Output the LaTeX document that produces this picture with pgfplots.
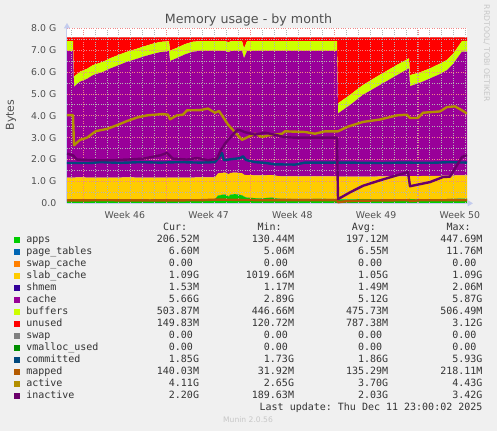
\documentclass[border=0pt]{standalone}
\usepackage{fontspec}
\setmainfont{DejaVu Sans}
\setmonofont{DejaVu Sans Mono}
\usepackage{pgfplots}
\pgfplotsset{compat=1.18}
\usepackage{pgfplotstable}
\usetikzlibrary{arrows.meta}

\definecolor{bgc}{HTML}{F0F0F0}
\definecolor{appsc}{HTML}{00CC00}
\definecolor{ptc}{HTML}{0066B3}
\definecolor{scc}{HTML}{FF8000}
\definecolor{slabc}{HTML}{FFCC00}
\definecolor{shc}{HTML}{330099}
\definecolor{cachec}{HTML}{990099}
\definecolor{bufc}{HTML}{CCFF00}
\definecolor{unc}{HTML}{FF0000}
\definecolor{swc}{HTML}{808080}
\definecolor{vmc}{HTML}{008F00}
\definecolor{comc}{HTML}{00487D}
\definecolor{mapc}{HTML}{B35A00}
\definecolor{actc}{HTML}{B38F00}
\definecolor{inac}{HTML}{6B006B}
\definecolor{gridred}{HTML}{F08888}
\definecolor{gridgray}{HTML}{B4B4B4}
\definecolor{axisc}{HTML}{C4CCEE}
\definecolor{txtc}{HTML}{505050}

% px = horizontal position (time), values in GiB
\pgfplotstableread{
px  apps pt     sc slab cache sh     buf  unused sw vm
67  0.16 0.0065 0  1.01 5.78  0.0015 0.45 0.18   0  0
73  0.16 0.0065 0  1.01 5.78  0.0015 0.45 0.18   0  0
74  0.16 0.0065 0  1.01 4.15  0.0015 0.46 1.80   0  0
80  0.17 0.0065 0  1.01 4.37  0.0015 0.46 1.57   0  0
87  0.16 0.0065 0  1.01 4.51  0.0015 0.46 1.44   0  0
93  0.16 0.0065 0  1.01 4.68  0.0015 0.46 1.27   0  0
103 0.17 0.0065 0  1.00 4.83  0.0015 0.46 1.12   0  0
110 0.16 0.0065 0  1.01 4.98  0.0015 0.47 0.96   0  0
120 0.16 0.0065 0  1.01 5.16  0.0015 0.47 0.78   0  0
127 0.17 0.0065 0  1.01 5.28  0.0015 0.46 0.66   0  0
137 0.16 0.0065 0  1.01 5.43  0.0015 0.46 0.52   0  0
145 0.16 0.0065 0  1.01 5.55  0.0015 0.46 0.40   0  0
153 0.17 0.0065 0  1.00 5.65  0.0015 0.47 0.29   0  0
160 0.16 0.0065 0  1.01 5.73  0.0015 0.47 0.21   0  0
169 0.16 0.0065 0  1.01 5.78  0.0015 0.45 0.18   0  0
170 0.16 0.0065 0  1.01 5.33  0.0015 0.47 0.61   0  0
177 0.17 0.0065 0  1.00 5.46  0.0015 0.47 0.48   0  0
185 0.16 0.0065 0  1.01 5.63  0.0015 0.47 0.31   0  0
193 0.16 0.0065 0  1.01 5.75  0.0015 0.46 0.20   0  0
200 0.17 0.0065 0  1.01 5.78  0.0015 0.44 0.18   0  0
215 0.17 0.0065 0  1.01 5.78  0.0015 0.45 0.17   0  0
218 0.35 0.0065 0  1.01 5.60  0.0015 0.45 0.17   0  0
225 0.40 0.0065 0  1.00 5.55  0.0015 0.45 0.18   0  0
229 0.30 0.0065 0  1.02 5.58  0.0015 0.46 0.22   0  0
230 0.38 0.0065 0  1.00 5.56  0.0015 0.45 0.19   0  0
235 0.42 0.0065 0  0.98 5.56  0.0015 0.45 0.17   0  0
242 0.36 0.0065 0  1.01 5.59  0.0015 0.45 0.17   0  0
244 0.30 0.0065 0  1.00 5.32  0.0015 0.45 0.51   0  0
247 0.25 0.0065 0  1.03 5.67  0.0015 0.45 0.18   0  0
260 0.22 0.0065 0  1.05 5.69  0.0015 0.45 0.17   0  0
272 0.25 0.0065 0  1.03 5.68  0.0015 0.44 0.18   0  0
280 0.20 0.0065 0  1.03 5.73  0.0015 0.44 0.18   0  0
300 0.19 0.0065 0  1.03 5.74  0.0015 0.45 0.17   0  0
320 0.20 0.0065 0  1.03 5.73  0.0015 0.44 0.18   0  0
337 0.19 0.0065 0  1.03 5.73  0.0015 0.45 0.18   0  0
338 0.18 0.0065 0  1.03 2.89  0.0015 0.46 3.02   0  0
350 0.18 0.0065 0  1.03 3.27  0.0015 0.47 2.63   0  0
363 0.19 0.0065 0  1.02 3.74  0.0015 0.45 2.18   0  0
380 0.18 0.0065 0  1.04 4.18  0.0015 0.47 1.71   0  0
397 0.18 0.0065 0  1.04 4.63  0.0015 0.47 1.26   0  0
409 0.19 0.0065 0  1.04 4.93  0.0015 0.46 0.96   0  0
410 0.19 0.0065 0  1.04 4.12  0.0015 0.50 1.73   0  0
420 0.18 0.0065 0  1.06 4.26  0.0015 0.48 1.60   0  0
430 0.19 0.0065 0  1.06 4.45  0.0015 0.46 1.42   0  0
440 0.18 0.0065 0  1.07 4.65  0.0015 0.48 1.20   0  0
447 0.19 0.0065 0  1.07 4.82  0.0015 0.47 1.03   0  0
453 0.20 0.0065 0  1.06 5.09  0.0015 0.47 0.76   0  0
457 0.20 0.0065 0  1.07 5.34  0.0015 0.47 0.50   0  0
462 0.21 0.0065 0  1.06 5.66  0.0015 0.48 0.17   0  0
467 0.21 0.0065 0  1.06 5.66  0.0015 0.49 0.16   0  0
}\memtable

\newcommand{\legfont}{\fontsize{7.5}{9}\selectfont\ttfamily}
\newcommand{\legrow}[7]{%
  \pgfmathsetmacro{\yb}{242.7+12*#1}%
  \node[fill=#2, inner sep=0pt, minimum size=4.4pt] at (17,\yb-2.7) {};
  \node[anchor=base west, inner sep=0pt, font=\legfont, text=black!80] at (26,\yb) {#3};
  \node[anchor=base east, inner sep=0pt, font=\legfont, text=black!80] at (199.3,\yb) {#4};
  \node[anchor=base east, inner sep=0pt, font=\legfont, text=black!80] at (294.3,\yb) {#5};
  \node[anchor=base east, inner sep=0pt, font=\legfont, text=black!80] at (388.5,\yb) {#6};
  \node[anchor=base east, inner sep=0pt, font=\legfont, text=black!80] at (482.7,\yb) {#7};
}
\newcommand{\zz}{0.00\phantom{M}}

\pgfplotsset{
  memframe/.style={
    at={(50.25pt,-152.475pt)}, anchor=south west,
    scale only axis, width=300pt, height=131.25pt,
    xmin=67, xmax=467, ymin=0, ymax=8,
  },
  dotgrid/.style={line width=0.6pt, dash pattern=on 0.6pt off 1.2pt},
}

\begin{document}
\begin{tikzpicture}[x=0.75pt,y=-0.75pt]
\path[use as bounding box, fill=bgc] (0,0) rectangle (497,431);

% stacked areas
\begin{axis}[
  memframe,
  axis background/.style={fill=white},
  stack plots=y,
  hide axis,
]
\addplot[fill=appsc, draw=none] table[x=px,y=apps]{\memtable}\closedcycle;
\addplot[fill=ptc, draw=none] table[x=px,y=pt]{\memtable}\closedcycle;
\addplot[fill=scc, draw=none] table[x=px,y=sc]{\memtable}\closedcycle;
\addplot[fill=slabc, draw=none] table[x=px,y=slab]{\memtable}\closedcycle;
\addplot[fill=shc, draw=none] table[x=px,y=sh]{\memtable}\closedcycle;
\addplot[fill=cachec, draw=none] table[x=px,y=cache]{\memtable}\closedcycle;
\addplot[fill=bufc, draw=none] table[x=px,y=buf]{\memtable}\closedcycle;
\addplot[fill=unc, draw=none] table[x=px,y=unused]{\memtable}\closedcycle;
\addplot[fill=swc, draw=none] table[x=px,y=sw]{\memtable}\closedcycle;
\addplot[fill=vmc, draw=none] table[x=px,y=vm]{\memtable}\closedcycle;
\end{axis}

% grid, axes and lines
\begin{axis}[
  memframe,
  axis lines=left,
  x axis line style={draw=axisc, line width=0.75pt, -{Triangle[length=4pt,width=4.5pt]}, shorten >=-4.5pt},
  y axis line style={draw=axisc, line width=0.75pt, -{Triangle[length=4pt,width=4.5pt]}, shorten >=-4pt},
  tick style={draw=none},
  xtick={124.9,208.6,292.4,376.1,459.9},
  xticklabels={Week 46,Week 47,Week 48,Week 49,Week 50},
  extra x ticks={83,166.75,250.5,334.25,418},
  extra x tick labels={},
  extra x tick style={grid=major},
  minor xtick={71.04,83,...,467},
  ytick={0,1,...,8},
  yticklabels={0.0,1.0 G,2.0 G,3.0 G,4.0 G,5.0 G,6.0 G,7.0 G,8.0 G},
  minor ytick={0.5,1.5,...,7.5},
  ymajorgrids=true, yminorgrids=true, xminorgrids=true,
  major grid style={draw=gridred, dotgrid},
  minor grid style={draw=gridgray, dotgrid},
  /pgf/number format/assume math mode=true,
  xticklabel style={font=\fontsize{7}{8}\selectfont, text=txtc, inner sep=0pt, anchor=north, yshift=-3.6pt},
  yticklabel style={font=\fontsize{7}{8}\selectfont, text=txtc, inner sep=0pt, anchor=east, xshift=-5.7pt},
  every axis plot/.append style={line width=1.8pt, line join=round},
]
% committed
\addplot[draw=comc, line width=1.8pt] coordinates {
(67,1.84) (90,1.84) (100,1.88) (120,1.85) (140,1.88) (160,1.86) (180,1.88) (200,1.86)
(215,1.88) (219,2.10) (222,2.30) (224,1.97) (232,2.02) (240,2.06) (243,2.15) (246,1.98)
(255,1.88) (265,1.85) (275,1.78) (295,1.77) (305,1.86) (330,1.86) (350,1.86) (380,1.84)
(400,1.86) (430,1.85) (450,1.88) (467,1.86)};
% mapped
\addplot[draw=mapc, line width=1.8pt] coordinates {
(67,0.13) (100,0.14) (150,0.13) (200,0.14) (218,0.17) (245,0.15) (300,0.14) (337,0.14)
(338,0.05) (345,0.09) (360,0.12) (400,0.14) (409,0.14) (410,0.10) (420,0.14) (467,0.14)};
% active
\addplot[draw=actc, line width=1.8pt] coordinates {
(67,4.03) (73,4.03) (74,2.65) (80,2.90) (87,3.00) (96,3.30) (107,3.40) (117,3.57)
(127,3.76) (137,3.92) (147,4.02) (163,4.08) (168,4.05) (170,3.84) (177,4.02) (183,4.05)
(187,4.25) (200,4.26) (208,4.33) (215,4.14) (219,4.22) (223,3.95) (228,3.60) (235,3.25)
(242,2.90) (248,3.03) (255,3.18) (262,3.03) (268,3.10) (282,3.18) (285,3.29) (305,3.26)
(315,3.18) (325,3.29) (338,3.29) (347,3.49) (363,3.72) (380,3.83) (397,4.02) (407,4.05)
(410,3.90) (418,3.90) (423,4.14) (440,4.20) (447,4.40) (455,4.43) (462,4.25) (467,4.10)};
% inactive
\addplot[draw=inac, line width=1.8pt] coordinates {
(67,2.27) (73,2.19) (77,2.00) (93,1.97) (110,1.97) (127,2.00) (143,2.04) (160,2.19)
(167,2.30) (173,2.04) (187,2.00) (197,2.07) (208,1.97) (217,2.04) (220,2.35) (225,2.73)
(232,3.10) (238,3.38) (245,3.25) (255,3.14) (265,3.23) (278,3.10) (283,3.03) (295,3.00)
(337,3.00) (338,0.19) (350,0.50) (363,0.80) (380,1.05) (397,1.28) (408,1.43) (410,0.78)
(430,0.97) (443,1.20) (450,1.22) (457,1.74) (462,2.12) (467,2.20)};
\end{axis}

% title, axis label, watermark
\node[anchor=base, inner sep=0pt, font=\fontsize{9.5}{11}\selectfont, text=txtc] at (248.5,24) {Memory usage - by month};
\node[rotate=90, inner sep=0pt, font=\fontsize{8.2}{10}\selectfont, text=txtc] at (11,115) {Bytes};
\node[rotate=-90, inner sep=0pt, font=\fontsize{5.8}{7}\selectfont, text=black!22] at (486.7,53.3) {RRDTOOL/ TOBI OETIKER};

% legend
\node[anchor=base west, inner sep=0pt, font=\legfont, text=black!80] at (162.8,230.7) {Cur:};
\node[anchor=base west, inner sep=0pt, font=\legfont, text=black!80] at (257.3,230.7) {Min:};
\node[anchor=base west, inner sep=0pt, font=\legfont, text=black!80] at (351.5,230.7) {Avg:};
\node[anchor=base west, inner sep=0pt, font=\legfont, text=black!80] at (446.3,230.7) {Max:};
\legrow{0}{appsc}{apps}{206.52M}{130.44M}{197.12M}{447.69M}
\legrow{1}{ptc}{page\_tables}{6.60M}{5.06M}{6.55M}{11.76M}
\legrow{2}{scc}{swap\_cache}{\zz}{\zz}{\zz}{\zz}
\legrow{3}{slabc}{slab\_cache}{1.09G}{1019.66M}{1.05G}{1.09G}
\legrow{4}{shc}{shmem}{1.53M}{1.17M}{1.49M}{2.06M}
\legrow{5}{cachec}{cache}{5.66G}{2.89G}{5.12G}{5.87G}
\legrow{6}{bufc}{buffers}{503.87M}{446.66M}{475.73M}{506.49M}
\legrow{7}{unc}{unused}{149.83M}{120.72M}{787.38M}{3.12G}
\legrow{8}{swc}{swap}{\zz}{\zz}{\zz}{\zz}
\legrow{9}{vmc}{vmalloc\_used}{\zz}{\zz}{\zz}{\zz}
\legrow{10}{comc}{committed}{1.85G}{1.73G}{1.86G}{5.93G}
\legrow{11}{mapc}{mapped}{140.03M}{31.92M}{135.29M}{218.11M}
\legrow{12}{actc}{active}{4.11G}{2.65G}{3.70G}{4.43G}
\legrow{13}{inac}{inactive}{2.20G}{189.63M}{2.03G}{3.42G}
\node[anchor=base east, inner sep=0pt, font=\legfont, text=black!80] at (482.7,411) {Last update: Thu Dec 11 23:00:02 2025};
\node[anchor=base, inner sep=0pt, font=\fontsize{5.7}{7}\selectfont, text=black!22] at (248,422.7) {Munin 2.0.56};
\end{tikzpicture}
\end{document}
